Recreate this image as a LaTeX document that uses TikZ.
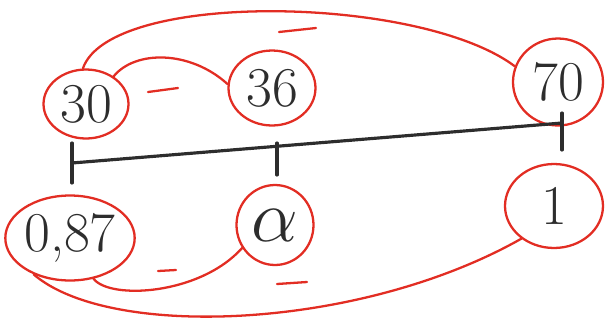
\documentclass[tikz,border=0pt]{standalone}
\usepackage{tikz}
\usepackage{graphicx}
\usetikzlibrary{shapes.geometric,positioning}
\definecolor{penred}{RGB}{226,45,35}
\definecolor{penblack}{RGB}{45,45,45}

\begin{document}
\begin{tikzpicture}[x=0.02cm, y=-0.02cm,
    ring/.style={draw=penred, line width=1.3pt, ellipse, inner sep=0pt, text=penblack, font=\fontsize{32}{36}\selectfont},
    link/.style={draw=penred, line width=1.3pt, line cap=round},
    minus/.style={draw=penred, line width=1.3pt, line cap=round},
    axis/.style={draw=penblack, line width=1.8pt, line cap=round}]
    \useasboundingbox (0,0) rectangle (613,329);
    % top row
    \node[ring, minimum width=1.7cm, minimum height=1.38cm] (n30) at (86,104) {30};
    \node[ring, minimum width=1.74cm, minimum height=1.5cm] (n36) at (272,88) {36};
    \node[ring, minimum width=1.8cm, minimum height=1.74cm] (n70) at (558,82) {70};
    % bottom row
    \node[ring, minimum width=2.36cm, minimum height=1.7cm] (n087) at (70,238) {0,87};
    \node[ring, minimum width=1.54cm, minimum height=1.6cm] (nalpha) at (275,225) {\scalebox{1.7}{$\alpha$}};
    \node[ring, minimum width=1.96cm, minimum height=1.68cm] (n1) at (554,206) {1};
    % scale
    \coordinate (aL) at (72,163);
    \coordinate (aR) at (562,123);
    \draw[axis] (aL) -- (aR);
    \draw[axis] (72,143) -- (72,183);
    \draw[axis] (277,143) -- (277,175);
    \draw[axis] (562,113) -- (562,150);
    % links between values
    \draw[link] (n30.95) .. controls (110,-10) and (420,-5) .. (n70.160);
    \draw[link] (n30.45) .. controls (135,50) and (190,50) .. (n36.175);
    \draw[link] (n087.300) .. controls (110,300) and (200,295) .. (nalpha.215);
    \draw[link] (n087.225) .. controls (110,340) and (360,330) .. (n1.225);
    % minus signs
    \draw[minus] (148,92) -- (178,88);
    \draw[minus] (279,32) -- (316,28);
    \draw[minus] (158,271) -- (176,270);
    \draw[minus] (277,284) -- (307,282);
\end{tikzpicture}
\end{document}
